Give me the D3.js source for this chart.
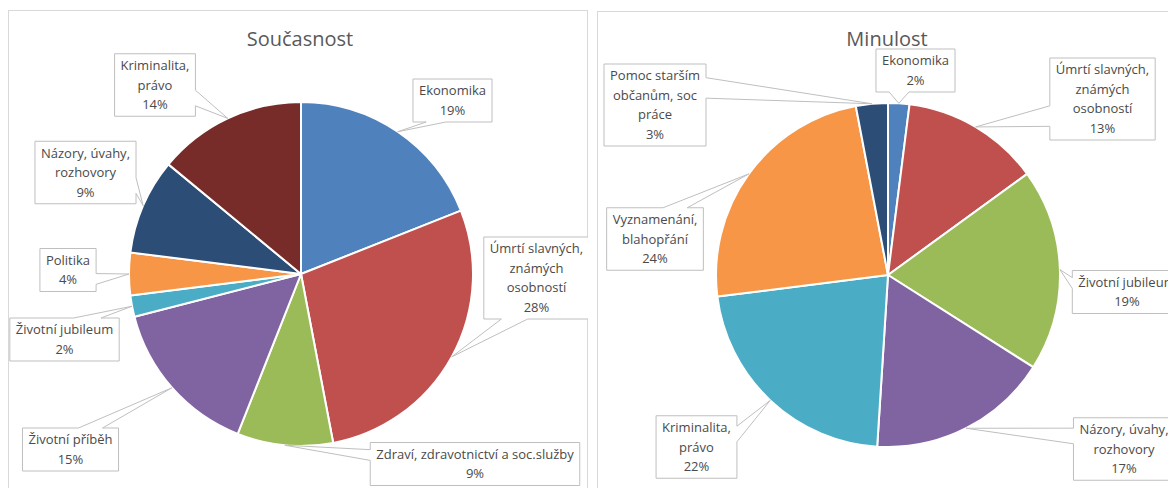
<!DOCTYPE html>
<html><head><meta charset="utf-8">
<script src="https://cdn.jsdelivr.net/npm/d3@7"></script>
<style>
body{margin:0;background:#fff;}
svg{display:block;font-family:"Open Sans",sans-serif;}
</style>
</head><body>
<svg id="c" width="1168" height="488"></svg>
<script>
// ---- DATA ----
const currentTitle = "Současnost";
const currentCategories = ["Ekonomika", "Úmrtí slavných, známých osobností", "Zdraví, zdravotnictví a soc.služby", "Životní příběh", "Životní jubileum", "Politika", "Názory, úvahy, rozhovory", "Kriminalita, právo"];
const currentValues = [19, 28, 9, 15, 2, 4, 9, 14];
const currentLabelLines = [["Ekonomika"], ["Úmrtí slavných,", "známých", "osobností"], ["Zdraví, zdravotnictví a soc.služby"], ["Životní příběh"], ["Životní jubileum"], ["Politika"], ["Názory, úvahy,", "rozhovory"], ["Kriminalita,", "právo"]];

const pastTitle = "Minulost";
const pastCategories = ["Ekonomika", "Úmrtí slavných, známých osobností", "Životní jubileum", "Názory, úvahy, rozhovory", "Kriminalita, právo", "Vyznamenání, blahopřání", "Pomoc starším občanům, soc práce"];
const pastValues = [2, 13, 19, 17, 22, 24, 3];
const pastLabelLines = [["Ekonomika"], ["Úmrtí slavných,", "známých", "osobností"], ["Životní jubileum"], ["Názory, úvahy,", "rozhovory"], ["Kriminalita,", "právo"], ["Vyznamenání,", "blahopřání"], ["Pomoc starším", "občanům, soc", "práce"]];

// ---- STYLE / LAYOUT ----
const palette = ["#4F81BD", "#C0504D", "#9BBB59", "#8064A2", "#4BACC6", "#F79646", "#2C4D75", "#772C2A"];
const panels = [
  {title: currentTitle, cats: currentCategories, vals: currentValues, lines: currentLabelLines,
   frame: {x: 8, y: 10, w: 580, h: 500}, cx: 301, cy: 274, r: 172,
   boxes: [[452.5, 100.5], [536.5, 278], [475, 464], [70.5, 449.5], [64.5, 339.5], [68, 270], [85.5, 172.5], [155, 85]]},
  {title: pastTitle, cats: pastCategories, vals: pastValues, lines: pastLabelLines,
   frame: {x: 597, y: 11, w: 590, h: 500}, cx: 888, cy: 275, r: 172,
   boxes: [[915.5, 70.5], [1102.5, 99], [1127, 292], [1124, 449], [696.5, 447], [655, 239], [655, 105]]}
];
const lineH = 19.5, fontSize = 13;

const svg = d3.select("#c");

function calloutPath(x, y, w, h, tx, ty) {
  const cx = x + w / 2, cy = y + h / 2;
  const dxPos = tx - cx, dyPos = ty - cy;
  const inside = tx >= x && tx <= x + w && ty >= y && ty <= y + h;
  const horiz = Math.abs(dxPos * h / w) > Math.abs(dyPos);
  const x1 = x + w * (dxPos > 0 ? 7 : 2) / 12, x2 = x + w * (dxPos > 0 ? 10 : 5) / 12;
  const y1 = y + h * (dyPos > 0 ? 7 : 2) / 12, y2 = y + h * (dyPos > 0 ? 10 : 5) / 12;
  let p = `M${x},${y}`;
  if (!inside && !horiz && dyPos < 0) p += `L${x1},${y}L${tx},${ty}L${x2},${y}`;
  p += `L${x + w},${y}`;
  if (!inside && horiz && dxPos > 0) p += `L${x + w},${y1}L${tx},${ty}L${x + w},${y2}`;
  p += `L${x + w},${y + h}`;
  if (!inside && !horiz && dyPos > 0) p += `L${x2},${y + h}L${tx},${ty}L${x1},${y + h}`;
  p += `L${x},${y + h}`;
  if (!inside && horiz && dxPos < 0) p += `L${x},${y2}L${tx},${ty}L${x},${y1}`;
  return p + "Z";
}

panels.forEach((P, pi) => {
  const clipId = "clip" + pi;
  svg.append("clipPath").attr("id", clipId)
    .append("rect").attr("x", P.frame.x).attr("y", P.frame.y).attr("width", P.frame.w).attr("height", P.frame.h);
  const g = svg.append("g").attr("clip-path", `url(#${clipId})`);
  g.append("rect").attr("x", P.frame.x + 0.5).attr("y", P.frame.y + 0.5)
    .attr("width", P.frame.w - 1).attr("height", P.frame.h)
    .attr("fill", "#fff").attr("stroke", "#d9d9d9");

  g.append("text").attr("x", P.frame.x + P.frame.w / 2 - (pi === 1 ? 5 : -2)).attr("y", 46)
    .attr("text-anchor", "middle").attr("font-size", 20).attr("fill", "#595959").text(P.title);

  const total = d3.sum(P.vals);
  const arcs = d3.pie().sort(null).value(d => d)(P.vals);
  const arc = d3.arc().innerRadius(0).outerRadius(P.r);
  const pie = g.append("g").attr("transform", `translate(${P.cx},${P.cy})`);
  pie.selectAll("path").data(arcs).join("path")
    .attr("d", arc)
    .attr("fill", (d, i) => palette[i % palette.length])
    .attr("stroke", "#fff").attr("stroke-width", 2).attr("stroke-linejoin", "round");

  arcs.forEach((a, i) => {
    const mid = (a.startAngle + a.endAngle) / 2;
    const tx = P.cx + P.r * Math.sin(mid), ty = P.cy - P.r * Math.cos(mid);
    const lines = P.lines[i].concat([Math.round(a.value / total * 100) + "%"]);
    const [bx, by] = P.boxes[i];
    const lg = g.append("g");
    const path = lg.append("path");
    const h = lines.length * lineH + 4;
    const top = by - h / 2;
    let maxW = 0;
    lines.forEach((t, k) => {
      const te = lg.append("text").attr("x", bx).attr("y", top + 2 + lineH * (k + 0.5) + fontSize * 0.35)
        .attr("text-anchor", "middle").attr("font-size", fontSize).attr("fill", "#4a4a4a").text(t);
      maxW = Math.max(maxW, te.node().getComputedTextLength());
    });
    const w = maxW + 12;
    path.attr("d", calloutPath(bx - w / 2, top, w, h, tx, ty))
      .attr("fill", "#fff").attr("stroke", "#bfbfbf").attr("stroke-width", 1);
  });
});
</script>
</body></html>
